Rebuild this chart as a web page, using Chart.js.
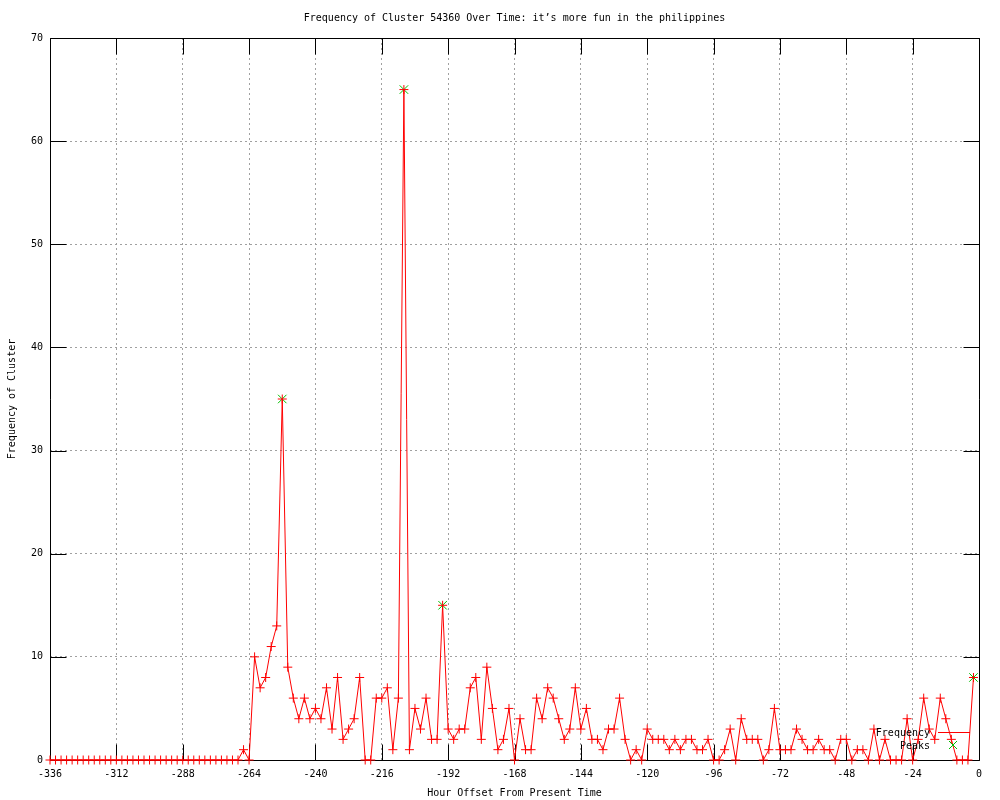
<!DOCTYPE html>
<html>
<head>
<meta charset="utf-8">
<script src="https://cdn.jsdelivr.net/npm/chart.js@4"></script>
<style>
  body { margin: 0; background: #fff; }
  #chart { display: block; }
</style>
</head>
<body>
<canvas id="chart" width="1000" height="800"></canvas>
<script>
// hourly buckets, one point every 2 hours starting at -336
const startHour = -336;
const stepHours = 2;
const frequency = [
  0, 0, 0, 0, 0, 0, 0, 0, 0, 0,      // -336 .. -318
  0, 0, 0, 0, 0, 0, 0, 0, 0, 0,      // -316 .. -298
  0, 0, 0, 0, 0, 0, 0, 0, 0, 0,      // -296 .. -278
  0, 0, 0, 0, 0,                     // -276 .. -268
  1, 0, 10, 7, 8, 11, 13, 35, 9, 6,  // -266 .. -248
  4, 6, 4, 5, 4, 7, 3, 8, 2, 3,      // -246 .. -228
  4, 8, 0, 0, 6, 6, 7, 1, 6, 65,     // -226 .. -208
  1, 5, 3, 6, 2, 2, 15, 3, 2, 3,     // -206 .. -188
  3, 7, 8, 2, 9, 5, 1, 2, 5, 0,      // -186 .. -168
  4, 1, 1, 6, 4, 7, 6, 4, 2, 3,      // -166 .. -148
  7, 3, 5, 2, 2, 1, 3, 3, 6, 2,      // -146 .. -128
  0, 1, 0, 3, 2, 2, 2, 1, 2, 1,      // -126 .. -108
  2, 2, 1, 1, 2, 0, 0, 1, 3, 0,      // -106 .. -88
  4, 2, 2, 2, 0, 1, 5, 1, 1, 1,      // -86 .. -68
  3, 2, 1, 1, 2, 1, 1, 0, 2, 2,      // -66 .. -48
  0, 1, 1, 0, 3, 0, 2, 0, 0, 0,      // -46 .. -28
  4, 0, 2, 6, 3, 2, 6, 4, 2, 0,      // -26 .. -8
  0, 0, 8                            // -6 .. -2
];
const peakHours = [-252, -208, -194, -2];
const peakValues = [35, 65, 15, 8];

const xMin = -336, xMax = 0, xStep = 24;
const yMin = 0, yMax = 70, yStep = 10;

const monoFont = { family: "'DejaVu Sans Mono', monospace", size: 10 };

// gnuplot style frame + inward tick marks on all four sides
const framePlugin = {
  id: 'frame',
  beforeDatasetsDraw(chart) {
    const { ctx, chartArea: a, scales } = chart;
    const L = Math.round(a.left) + 0.5, R = Math.round(a.right) + 0.5;
    const T = Math.round(a.top) + 0.5, B = Math.round(a.bottom) + 0.5;
    const len = 16;
    ctx.save();
    ctx.strokeStyle = '#000';
    ctx.lineWidth = 1;
    ctx.setLineDash([]);
    ctx.beginPath();
    scales.x.ticks.forEach(t => {
      const px = Math.round(scales.x.getPixelForValue(t.value)) + 0.5;
      ctx.moveTo(px, B); ctx.lineTo(px, B - len);
      ctx.moveTo(px, T); ctx.lineTo(px, T + len);
    });
    scales.y.ticks.forEach(t => {
      const py = Math.round(scales.y.getPixelForValue(t.value)) + 0.5;
      ctx.moveTo(L, py); ctx.lineTo(L + len, py);
      ctx.moveTo(R, py); ctx.lineTo(R - len, py);
    });
    ctx.rect(L, T, R - L, B - T);
    ctx.stroke();
    ctx.restore();
  }
};

// key drawn inside the plot, bottom right
const keyPlugin = {
  id: 'key',
  afterDatasetsDraw(chart) {
    const { ctx, chartArea: a } = chart;
    const textX = a.right - 49;
    const y1 = a.bottom - 27, y2 = a.bottom - 14;
    ctx.save();
    ctx.font = "10px 'DejaVu Sans Mono', monospace";
    ctx.fillStyle = '#000';
    ctx.textAlign = 'right';
    ctx.textBaseline = 'middle';
    ctx.fillText(chart.data.datasets[0].label, textX, y1);
    ctx.fillText(chart.data.datasets[1].label, textX, y2);
    ctx.strokeStyle = '#ff0000';
    ctx.lineWidth = 1;
    ctx.beginPath();
    ctx.moveTo(textX + 8, y1 - 0.5);
    ctx.lineTo(textX + 40, y1 - 0.5);
    ctx.stroke();
    ctx.strokeStyle = '#00c000';
    const cx = textX + 23, cy = y2 - 1, r = 4;
    ctx.beginPath();
    ctx.moveTo(cx - r, cy - r); ctx.lineTo(cx + r, cy + r);
    ctx.moveTo(cx - r, cy + r); ctx.lineTo(cx + r, cy - r);
    ctx.stroke();
    ctx.restore();
  }
};

new Chart(document.getElementById('chart'), {
  type: 'line',
  data: {
    datasets: [{
      label: 'Frequency',
      data: frequency.map((v, i) => ({ x: startHour + i * stepHours, y: v })),
      borderColor: '#ff0000',
      borderWidth: 1,
      tension: 0,
      pointStyle: 'cross',
      pointRadius: 4.5,
      pointBorderWidth: 1,
      pointBorderColor: '#ff0000',
      pointHoverRadius: 4.5,
      clip: false
    }, {
      label: 'Peaks',
      data: peakHours.map((h, i) => ({ x: h, y: peakValues[i] })),
      showLine: false,
      pointStyle: 'crossRot',
      pointRadius: 6,
      pointBorderWidth: 1,
      pointBorderColor: '#00c000',
      borderColor: '#00c000',
      clip: false
    }]
  },
  options: {
    responsive: false,
    animation: false,
    devicePixelRatio: 1,
    events: [],
    layout: { padding: { left: 0, right: 21, top: 0, bottom: 0 } },
    plugins: {
      legend: { display: false },
      tooltip: { enabled: false },
      title: {
        display: true,
        fullSize: false,
        text: 'Frequency of Cluster 54360 Over Time: it’s more fun in the philippines',
        color: '#000',
        font: { ...monoFont, weight: 'normal', lineHeight: 1.2 },
        padding: { top: 12, bottom: 14 }
      }
    },
    scales: {
      x: {
        type: 'linear',
        min: xMin,
        max: xMax,
        afterFit: (scale) => { scale.height = 40; },
        ticks: { stepSize: xStep, color: '#000', font: monoFont, padding: 8, maxRotation: 0, autoSkip: false },
        grid: { color: '#a0a0a0', drawTicks: false, lineWidth: 1 },
        border: { display: false, dash: [2, 3] },
        title: {
          display: true,
          text: 'Hour Offset From Present Time',
          color: '#000',
          font: monoFont,
          padding: { top: 0, bottom: 1 }
        }
      },
      y: {
        type: 'linear',
        min: yMin,
        max: yMax,
        afterFit: (scale) => { scale.width = 50; },
        ticks: { stepSize: yStep, color: '#000', font: monoFont, padding: 7 },
        grid: { color: '#a0a0a0', drawTicks: false, lineWidth: 1 },
        border: { display: false, dash: [2, 3] },
        title: {
          display: true,
          text: 'Frequency of Cluster',
          color: '#000',
          font: monoFont,
          padding: { top: 6, bottom: 0 }
        }
      }
    }
  },
  plugins: [framePlugin, keyPlugin]
});
</script>
</body>
</html>
